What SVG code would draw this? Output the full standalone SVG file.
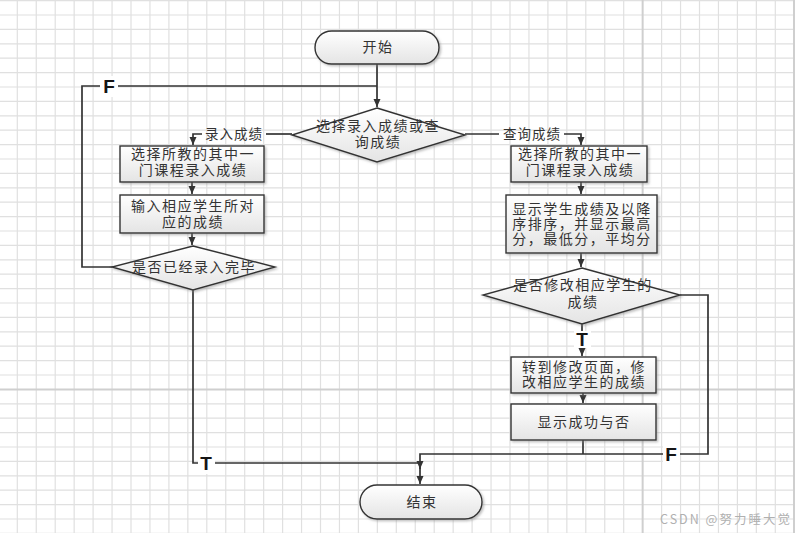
<svg xmlns="http://www.w3.org/2000/svg" width="795" height="533" viewBox="0 0 795 533">
<style>
.grid{stroke:#e0e0e0;stroke-width:1.2;fill:none}
.page{stroke:#cfcfcf;stroke-width:2;fill:none}
.shape{fill:url(#g);stroke:#333;stroke-width:1.4;filter:url(#sh)}
.t{font-family:"Noto Sans CJK SC","Noto Sans",sans-serif;font-size:14px;fill:#333;text-anchor:middle;letter-spacing:1.5px}
.lbl{font-family:"Noto Sans CJK SC","Noto Sans",sans-serif;font-size:13.5px;fill:#333;text-anchor:middle;letter-spacing:1px}
.tf{font-family:"Liberation Sans",Arial,sans-serif;font-size:19px;font-weight:bold;fill:#151515;text-anchor:middle}
.c{fill:none;stroke:#333;stroke-width:1.7}
.bg{fill:#fff}
</style>
<defs>
<linearGradient id="g" x1="0" y1="0" x2="0" y2="1">
<stop offset="0" stop-color="#ffffff"/>
<stop offset="1" stop-color="#e4e4e4"/>
</linearGradient>
<filter id="sh" x="-10%" y="-10%" width="125%" height="135%">
<feDropShadow dx="1.5" dy="1.5" stdDeviation="0.8" flood-color="#888" flood-opacity="0.55"/>
</filter>
<marker id="ar" markerUnits="userSpaceOnUse" markerWidth="10" markerHeight="10" viewBox="0 0 10 10" refX="9" refY="5" orient="auto">
<path d="M1,1.5 L9,5 L1,8.5 Z" fill="#333"/>
</marker>
</defs>
<rect width="795" height="533" fill="#fff"/>
<g id="grid">
<path class="grid" d="M-1.65,0V533M17.3,0V533M36.25,0V533M55.2,0V533M74.15,0V533M93.1,0V533M112.05,0V533M131,0V533M149.95,0V533M168.9,0V533M187.85,0V533M206.8,0V533M225.75,0V533M244.7,0V533M263.65,0V533M282.6,0V533M301.55,0V533M320.5,0V533M339.45,0V533M358.4,0V533M377.35,0V533M396.3,0V533M415.25,0V533M434.2,0V533M453.15,0V533M472.1,0V533M491.05,0V533M510,0V533M528.95,0V533M547.9,0V533M566.85,0V533M585.8,0V533M604.75,0V533M623.7,0V533M661.6,0V533M680.55,0V533M699.5,0V533M718.45,0V533M737.4,0V533M756.35,0V533M775.3,0V533"/>
<path class="grid" d="M0,0.6H795M0,15H795M0,29.4H795M0,43.8H795M0,58.2H795M0,72.6H795M0,87H795M0,101.4H795M0,115.8H795M0,130.2H795M0,144.6H795M0,159H795M0,173.4H795M0,187.8H795M0,202.2H795M0,216.6H795M0,231H795M0,245.4H795M0,259.8H795M0,274.2H795M0,288.6H795M0,303H795M0,317.4H795M0,331.8H795M0,346.2H795M0,360.6H795M0,375H795M0,403.8H795M0,418.2H795M0,432.6H795M0,447H795M0,461.4H795M0,475.8H795M0,490.2H795M0,504.6H795M0,519H795M0,533.4H795"/>
<path class="page" d="M642.65,0V533M794,0V533M0,389.4H795"/>
</g>
<g id="connectors">
<path class="c" d="M377,64V107" marker-end="url(#ar)"/>
<path class="c" d="M112,267H82V86H377"/>
<rect class="bg" x="100" y="76" width="18" height="21"/>
<text class="tf" x="109" y="93">F</text>
<path class="c" d="M292,134H266"/>
<text class="lbl" x="234" y="139">录入成绩</text>
<path class="c" d="M202,134H193V145" marker-end="url(#ar)"/>
<path class="c" d="M192,182V194" marker-end="url(#ar)"/>
<path class="c" d="M192,233V245" marker-end="url(#ar)"/>
<path class="c" d="M193,290V463H199"/>
<rect class="bg" x="198" y="453" width="17" height="21"/>
<text class="tf" x="206" y="470">T</text>
<path class="c" d="M215,463H420"/>
<path class="c" d="M465,134H499"/>
<text class="lbl" x="532" y="139">查询成绩</text>
<path class="c" d="M564,134H581V145" marker-end="url(#ar)"/>
<path class="c" d="M581,182V194" marker-end="url(#ar)"/>
<path class="c" d="M581,253V267" marker-end="url(#ar)"/>
<path class="c" d="M582,324V332"/>
<rect class="bg" x="574" y="331" width="17" height="17"/>
<text class="tf" x="582" y="346">T</text>
<path class="c" d="M582,348V356" marker-end="url(#ar)"/>
<path class="c" d="M583,393V403" marker-end="url(#ar)"/>
<path class="c" d="M583,440V454"/>
<path class="c" d="M680,295H708V454H679"/>
<rect class="bg" x="663" y="444" width="17" height="21"/>
<text class="tf" x="671" y="461">F</text>
<path class="c" d="M663,454H420V484" marker-end="url(#ar)"/>
<path class="c" d="M420,462V469" marker-end="url(#ar)"/>
</g>
<g id="start">
<rect class="shape" x="315" y="31" width="124" height="33" rx="16.5"/>
<text class="t" x="378" y="52">开始</text>
</g>
<g id="d1">
<polygon class="shape" points="377,108 465,135 377,162 292,135"/>
<text class="t" x="378" y="131">选择录入成绩或查</text>
<text class="t" x="378" y="147">询成绩</text>
</g>
<g id="a1">
<rect class="shape" x="120" y="146" width="144" height="36"/>
<text class="t" x="193" y="159">选择所教的其中一</text>
<text class="t" x="193" y="175">门课程录入成绩</text>
</g>
<g id="a2">
<rect class="shape" x="120" y="195" width="144" height="38"/>
<text class="t" x="193" y="211">输入相应学生所对</text>
<text class="t" x="193" y="227">应的成绩</text>
</g>
<g id="d2">
<polygon class="shape" points="193,246 275,267 193,290 112,267"/>
<text class="t" x="194" y="272">是否已经录入完毕</text>
</g>
<g id="b1">
<rect class="shape" x="511" y="146" width="136" height="36"/>
<text class="t" x="580" y="159">选择所教的其中一</text>
<text class="t" x="580" y="175">门课程录入成绩</text>
</g>
<g id="b2">
<rect class="shape" x="506" y="195" width="151" height="58"/>
<text class="t" x="582" y="214">显示学生成绩及以降</text>
<text class="t" x="582" y="229">序排序，并显示最高</text>
<text class="t" x="582" y="244">分，最低分，平均分</text>
</g>
<g id="d3">
<polygon class="shape" points="582,268 680,295 582,324 483,295"/>
<text class="t" x="583" y="290">是否修改相应学生的</text>
<text class="t" x="583" y="307">成绩</text>
</g>
<g id="b3">
<rect class="shape" x="511" y="357" width="145" height="36"/>
<text class="t" x="584" y="372">转到修改页面，修</text>
<text class="t" x="584" y="387">改相应学生的成绩</text>
</g>
<g id="b4">
<rect class="shape" x="511" y="404" width="145" height="36"/>
<text class="t" x="584" y="427">显示成功与否</text>
</g>
<g id="end">
<rect class="shape" x="360" y="485" width="122" height="34" rx="17"/>
<text class="t" x="422" y="507">结束</text>
</g>
<text x="660" y="524" font-family="'Noto Sans CJK SC','Noto Sans',sans-serif" font-size="12.5" fill="#b0b0b0" textLength="130">CSDN @努力睡大觉</text>
</svg>
